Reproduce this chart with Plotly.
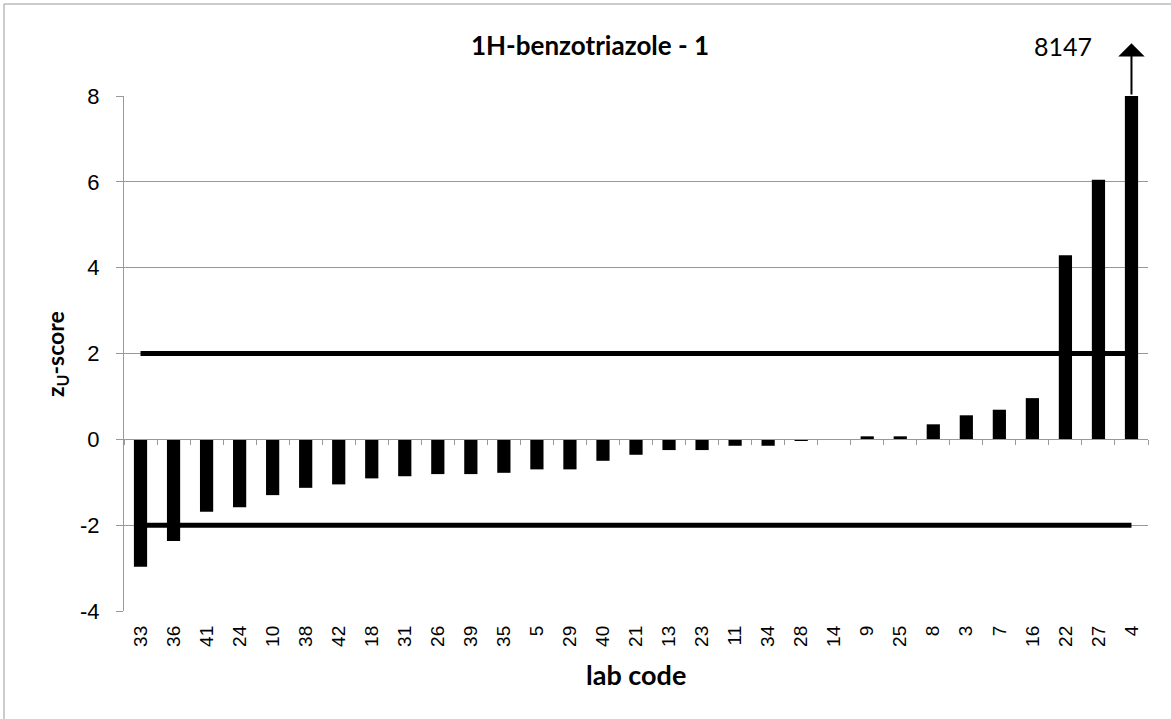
import plotly.graph_objects as go

labs = ["33","36","41","24","10","38","42","18","31","26","39","35","5","29","40","21","13","23","11","34","28","14","9","25","8","3","7","16","22","27","4"]
zscores = [-2.97,-2.37,-1.69,-1.58,-1.30,-1.13,-1.05,-0.91,-0.86,-0.81,-0.81,-0.78,-0.70,-0.70,-0.50,-0.36,-0.25,-0.25,-0.15,-0.15,-0.02,0.0,0.07,0.07,0.35,0.56,0.69,0.96,4.29,6.05,8147]
limit_upper = 2
limit_lower = -2
ytick_vals = [-4, -2, 0, 2, 4, 6, 8]
ytick_text = ["-4", "-2", "0", "2", "4", "6", "8"]
title_text = "1H-benzotriazole - 1"
off_scale_label = "8147"
arrow_top = 9.23

TFONT = "Lato, 'Open Sans', sans-serif"
AFONT = "'Liberation Sans', Arial, sans-serif"

L, R, T, B = 124, 23, 96, 108
W, H = 1171, 719
ymin, ymax = -4, 8
PW = W - L - R
PH = H - T - B

def px_x(px):
    return (px - L) / PW

def px_y(py):
    return (H - B - py) / PH

fig = go.Figure()
fig.add_trace(go.Bar(x=labs, y=zscores, marker=dict(color="black", line=dict(width=0)),
                     showlegend=False))
for v in (limit_upper, limit_lower):
    fig.add_trace(go.Scatter(x=[labs[0], labs[-1]], y=[v, v], mode="lines",
                             line=dict(color="black", width=5), showlegend=False, hoverinfo="skip"))
# dummy trace for category tick marks along the zero line
fig.add_trace(go.Scatter(x=labs, y=[None]*len(labs), xaxis="x2", yaxis="y",
                         showlegend=False, hoverinfo="skip"))

zero_frac = (0 - ymin) / (ymax - ymin)

fig.update_layout(
    width=W, height=H,
    margin=dict(l=L, r=R, t=T, b=B, autoexpand=False),
    paper_bgcolor="white", plot_bgcolor="white",
    bargap=0.6,
    font=dict(family=AFONT, size=16, color="black"),
    xaxis=dict(type="category", categoryorder="array", categoryarray=labs,
               tickangle=-90, tickfont=dict(family=AFONT, size=19), ticks="",
               ticklabelstandoff=10,
               showgrid=False, showline=False, automargin=False),
    xaxis2=dict(type="category", categoryorder="array", categoryarray=labs, overlaying="x",
                anchor="free", position=zero_frac, side="bottom", showticklabels=False,
                ticks="outside", ticklen=5, tickcolor="#999999", tickson="boundaries",
                showline=True, linecolor="#999999", linewidth=1, showgrid=False,
                matches="x"),
    yaxis=dict(range=[ymin, ymax], tickvals=ytick_vals, ticktext=ytick_text,
               showgrid=True, gridcolor="#999999", gridwidth=1,
               zeroline=False, showline=True, linecolor="#999999", ticks="outside", ticklen=7,
               tickcolor="#999999", tickfont=dict(family=AFONT, size=22),
               ticklabelstandoff=12, automargin=False),
    shapes=[dict(type="rect", xref="paper", yref="paper", x0=px_x(4), x1=px_x(1173),
                 y0=px_y(721), y1=px_y(4), line=dict(color="#999999", width=1))],
    annotations=[
        dict(text="<b>" + title_text + "</b>", xref="paper", yref="paper",
             x=px_x(590), y=px_y(45), showarrow=False, font=dict(family=TFONT, size=26),
             xanchor="center", yanchor="middle"),
        dict(text="<b>lab code</b>", xref="paper", yref="paper",
             x=px_x(636), y=px_y(674), showarrow=False, font=dict(family=TFONT, size=27),
             xanchor="center", yanchor="middle"),
        dict(text="<b>z<sub>U</sub>-score</b>", xref="paper", yref="paper", textangle=-90,
             x=px_x(56), y=px_y(354), showarrow=False, font=dict(family=TFONT, size=23),
             xanchor="center", yanchor="middle"),
        dict(text=off_scale_label, xref="paper", yref="paper",
             x=px_x(1063), y=px_y(46), showarrow=False, font=dict(family=TFONT, size=25),
             xanchor="center", yanchor="middle"),
        dict(x=len(labs) - 1, y=arrow_top, ax=len(labs) - 1, ay=ymax, xref="x", yref="y",
             axref="x", ayref="y", text="", showarrow=True, arrowhead=1, arrowsize=2.2,
             arrowwidth=2, arrowcolor="black"),
    ],
)

fig.write_html("out.html", config={"displayModeBar": False},
               post_script="document.body.style.margin='0px';")
